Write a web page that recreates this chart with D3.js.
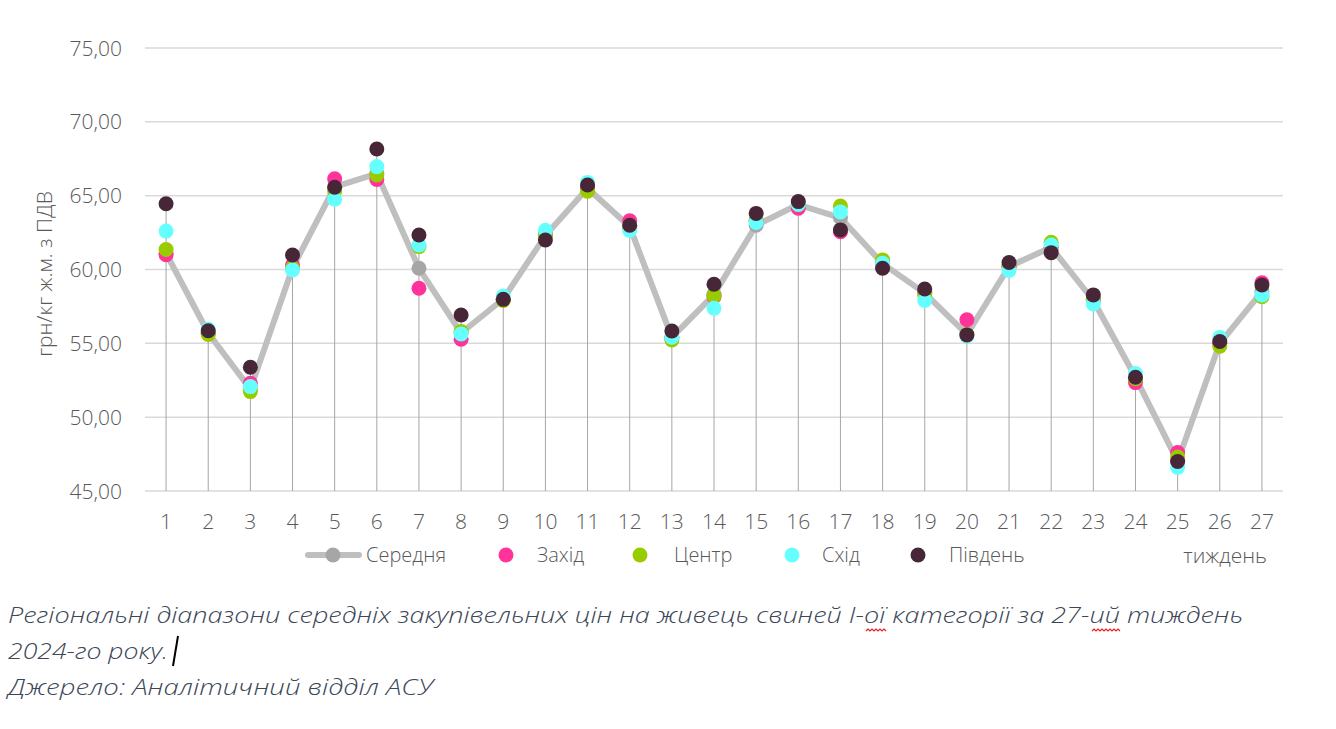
<!DOCTYPE html>
<html><head><meta charset="utf-8">
<script src="https://cdn.jsdelivr.net/npm/d3@7"></script>
<style>body{margin:0;background:#fff;}svg{display:block;}</style>
</head><body>
<svg id="c" width="1336" height="729"></svg>
<script>
const weeks = d3.range(1, 28).map(String);
const avg   = [61.1,55.7,51.9,60.1,65.6,66.5,60.08,55.7,58.0,62.3,65.5,62.9,55.4,58.3,63.0,64.4,63.5,60.4,58.4,55.6,60.2,61.5,57.9,52.7,47.0,55.0,58.5];
const west  = [61.0,55.7,52.3,60.3,66.15,66.1,58.73,55.28,58.0,62.4,65.6,63.3,55.4,58.16,63.3,64.15,62.56,60.2,58.5,56.6,60.2,61.5,58.0,52.34,47.6,55.0,59.1];
const centr = [61.35,55.6,51.73,60.1,65.3,66.4,61.55,55.8,57.9,62.3,65.3,62.8,55.23,58.23,63.3,64.4,64.3,60.65,58.3,55.6,60.2,61.85,58.0,52.6,47.3,54.8,58.16];
const east  = [62.6,55.95,52.07,59.97,64.76,66.97,61.66,55.64,58.2,62.65,65.9,62.65,55.41,57.38,63.18,64.4,63.9,60.42,57.9,55.5,59.93,61.66,57.67,52.95,46.6,55.4,58.28];
const south = [64.45,55.85,53.38,60.98,65.57,68.16,62.34,56.92,57.98,62.0,65.72,63.0,55.84,59.0,63.8,64.6,62.68,60.08,58.68,55.57,60.47,61.14,58.28,52.7,47.0,55.12,58.95];
const yTicks = [45,50,55,60,65,70,75];
const seriesNames = ["Середня","Захід","Центр","Схід","Південь"];
const colors = {"Захід":"#FF3399","Центр":"#99CC00","Схід":"#66FFFF","Південь":"#472737"};

const svg = d3.select("#c");
const x = d3.scaleBand().domain(weeks).range([145,1283]);
const y = d3.scaleLinear().domain([45,75]).range([491,48]);
const cx = w => x(w) + x.bandwidth()/2;
const axisFont = "'Open Sans', sans-serif";

// grid
svg.append("g").selectAll("line").data(yTicks).join("line")
  .attr("x1",145).attr("x2",1283).attr("y1",d=>y(d)).attr("y2",d=>y(d))
  .attr("stroke","#D9D9D9").attr("stroke-width",1.5);

// y tick labels
svg.append("g").selectAll("text").data(yTicks).join("text")
  .attr("x",122).attr("y",d=>y(d)+7.5).attr("text-anchor","end")
  .attr("font-family",axisFont).attr("font-weight",300).attr("font-size",21).attr("fill","#595959")
  .text(d=>d3.format(".2f")(d).replace(".",","));

// y title
svg.append("text").attr("transform","translate(52,274) rotate(-90)")
  .attr("text-anchor","middle").attr("font-family",axisFont).attr("font-weight",300).attr("font-size",21).attr("fill","#595959")
  .text("грн/кг ж.м. з ПДВ");

// x tick labels
svg.append("g").selectAll("text").data(weeks).join("text")
  .attr("x",d=>cx(d)).attr("y",529).attr("text-anchor","middle")
  .attr("font-family",axisFont).attr("font-weight",300).attr("font-size",21).attr("fill","#595959")
  .text(d=>d);

// stems (high-low lines)
const all = [avg,west,centr,east,south];
svg.append("g").selectAll("line").data(weeks).join("line")
  .attr("x1",d=>cx(d)).attr("x2",d=>cx(d))
  .attr("y1",y(45)).attr("y2",(d,i)=>y(d3.max(all,s=>s[i])))
  .attr("stroke","#A6A6A6").attr("stroke-width",1);

// average line
const line = d3.line().x((d,i)=>cx(weeks[i])).y(d=>y(d));
svg.append("path").datum(avg).attr("d",line).attr("fill","none")
  .attr("stroke","#BFBFBF").attr("stroke-width",6).attr("stroke-linejoin","round");
svg.append("g").selectAll("circle").data(avg).join("circle")
  .attr("cx",(d,i)=>cx(weeks[i])).attr("cy",d=>y(d)).attr("r",7.5).attr("fill","#A6A6A6");

// region dots
[["Захід",west],["Центр",centr],["Схід",east],["Південь",south]].forEach(([n,arr])=>{
  svg.append("g").selectAll("circle").data(arr).join("circle")
    .attr("cx",(d,i)=>cx(weeks[i])).attr("cy",d=>y(d)).attr("r",7.5).attr("fill",colors[n]);
});

// legend
const lg = svg.append("g").attr("font-family",axisFont).attr("font-weight",300).attr("font-size",20).attr("fill","#595959");
lg.append("line").attr("x1",308).attr("x2",359).attr("y1",555).attr("y2",555).attr("stroke","#BFBFBF").attr("stroke-width",6).attr("stroke-linecap","round");
lg.append("circle").attr("cx",333).attr("cy",555).attr("r",7.5).attr("fill","#A6A6A6");
lg.append("text").attr("x",366).attr("y",562).text(seriesNames[0]);
const legPos = [[506,537],[640,674],[792,822],[918,949]];
seriesNames.slice(1).forEach((n,i)=>{
  lg.append("circle").attr("cx",legPos[i][0]).attr("cy",555).attr("r",7.5).attr("fill",colors[n]);
  lg.append("text").attr("x",legPos[i][1]).attr("y",562).text(n);
});
svg.append("text").attr("x",1267).attr("y",563).attr("text-anchor","end")
  .attr("font-family",axisFont).attr("font-weight",300).attr("font-size",21).attr("fill","#595959").text("тиждень");

// caption
const cap = svg.append("g").attr("font-family",axisFont).attr("font-style","italic").attr("font-weight",300)
  .attr("font-size",22).attr("fill","#3B4656");
cap.append("text").attr("x",8).attr("y",623).attr("textLength",1235).attr("lengthAdjust","spacingAndGlyphs")
  .text("Регіональні діапазони середніх закупівельних цін на живець свиней І-ої категорії за 27-ий тиждень");
cap.append("text").attr("x",8).attr("y",659).attr("textLength",160).attr("lengthAdjust","spacingAndGlyphs").text("2024-го року.");
cap.append("text").attr("x",8).attr("y",695).attr("textLength",425).attr("lengthAdjust","spacingAndGlyphs").text("Джерело: Аналітичний відділ АСУ");
// text cursor
svg.append("line").attr("x1",178).attr("x2",173).attr("y1",636).attr("y2",666).attr("stroke","#000").attr("stroke-width",2);
// spell-check squiggles
function squiggle(x0,x1,yy){
  let d=`M${x0},${yy}`; let up=true;
  for(let xx=x0+2; xx<=x1; xx+=2){ d+=` L${xx},${yy+(up?-2:0)}`; up=!up; }
  svg.append("path").attr("d",d).attr("fill","none").attr("stroke","#E02020").attr("stroke-width",1.2);
}
squiggle(866,886,631);
squiggle(1092,1120,631);
</script>
</body></html>
